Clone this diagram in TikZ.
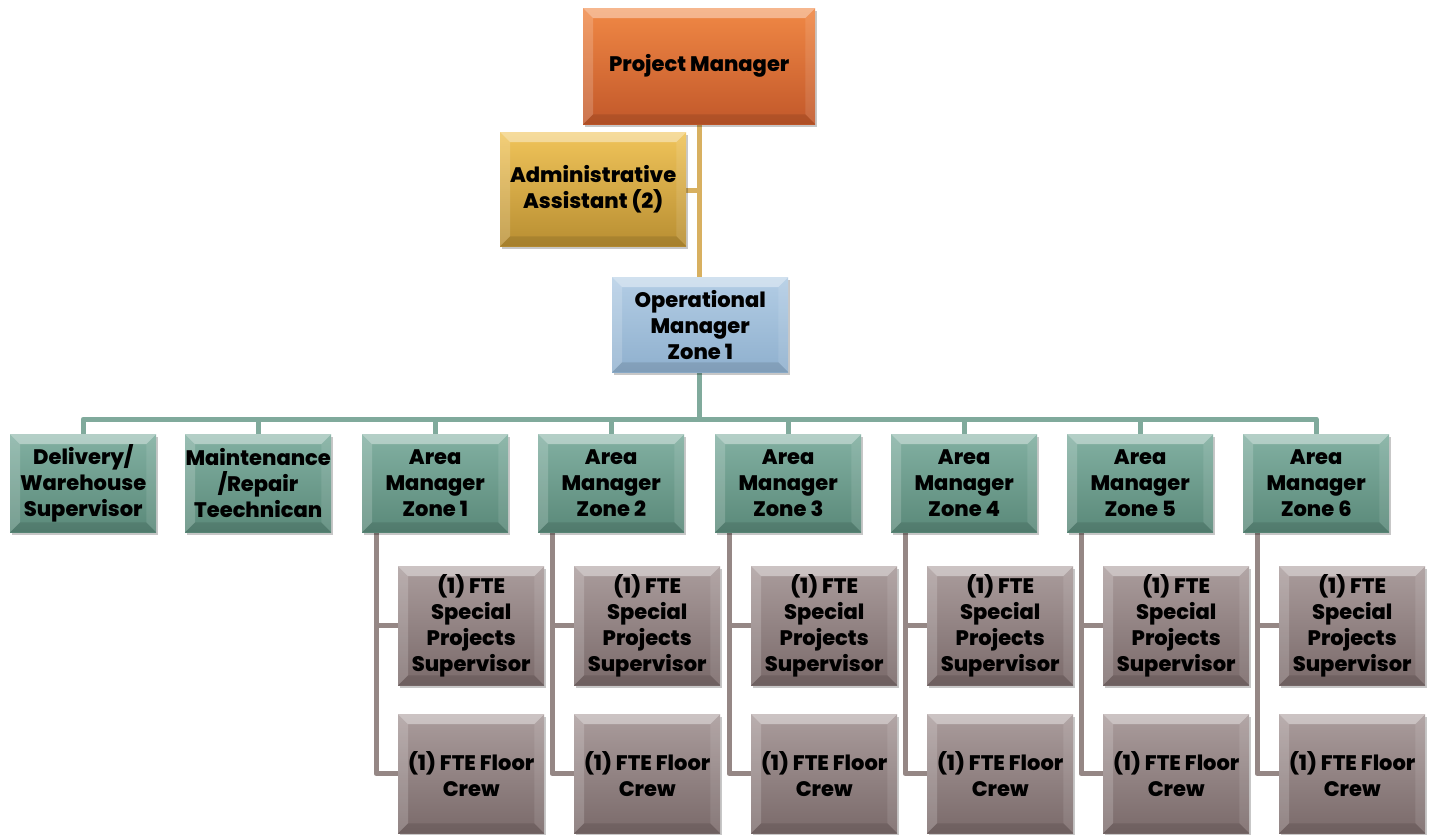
\documentclass[tikz,border=0pt]{standalone}
\usepackage{fontspec}
\setmainfont{Poppins}[BoldFont={Poppins ExtraBold}]
\usetikzlibrary{calc,shadows}

% fill colours (top / bottom of each gradient)
\definecolor{pmtop}{HTML}{F08845}
\definecolor{pmbot}{HTML}{C2582A}
\definecolor{astop}{HTML}{F0C45A}
\definecolor{asbot}{HTML}{B88E32}
\definecolor{optop}{HTML}{B3CDE5}
\definecolor{opbot}{HTML}{8FB0CE}
\definecolor{tltop}{HTML}{82B0A2}
\definecolor{tlbot}{HTML}{5A8979}
\definecolor{mvtop}{HTML}{AA9C9C}
\definecolor{mvbot}{HTML}{7A6A6A}
% connector colours
\definecolor{goldline}{HTML}{D8B060}
\definecolor{tealline}{HTML}{80AA9C}
\definecolor{mauveline}{HTML}{958785}

\pgfdeclarelayer{background}
\pgfsetlayers{background,main}

\tikzset{
  box/.style={rectangle, anchor=north west, inner sep=0pt,
    drop shadow={shadow xshift=2pt, shadow yshift=-3pt, opacity=.22, fill=black}},
  pmbox/.style={box, top color=pmtop, bottom color=pmbot},
  asbox/.style={box, top color=astop, bottom color=asbot},
  opbox/.style={box, top color=optop, bottom color=opbot},
  tlbox/.style={box, top color=tltop, bottom color=tlbot},
  mvbox/.style={box, top color=mvtop, bottom color=mvbot},
  boxtext/.style={align=center, inner sep=0pt, text=black,
    font=\fontsize{21}{26}\selectfont\bfseries},
  link/.style={line width=5pt, line join=round, line cap=butt},
}

% bevelled rim drawn over a box node
\newcommand\bevel[1]{%
  \fill[white,opacity=.40] (#1.north west) -- (#1.north east)
    -- ($(#1.north east)+(-10pt,-10pt)$) -- ($(#1.north west)+(10pt,-10pt)$) -- cycle;
  \fill[white,opacity=.18] (#1.north west) -- ($(#1.north west)+(10pt,-10pt)$)
    -- ($(#1.south west)+(10pt,10pt)$) -- (#1.south west) -- cycle;
  \fill[white,opacity=.10] (#1.north east) -- ($(#1.north east)+(-10pt,-10pt)$)
    -- ($(#1.south east)+(-10pt,10pt)$) -- (#1.south east) -- cycle;
  \fill[black,opacity=.10] (#1.south west) -- ($(#1.south west)+(10pt,10pt)$)
    -- ($(#1.south east)+(-10pt,10pt)$) -- (#1.south east) -- cycle;
}

% a box placed by its pixel corners: name, style, x1, y1, x2, y2, text
\newcommand\orgbox[7]{%
  \pgfmathsetmacro\bxw{(#5)-(#3)}%
  \pgfmathsetmacro\bxh{(#6)-(#4)}%
  \node[#2, minimum width=\bxw pt, minimum height=\bxh pt] (#1) at (#3,#4) {};
  \bevel{#1}
  \node[boxtext] (#1-label) at (#1.center) {#7};
}

\begin{document}
\begin{tikzpicture}[x=1pt, y=-1pt]
\useasboundingbox (0,0) rectangle (1435,835);

\coordinate (stem) at (699,124);
\coordinate (asjoin) at (699,190);
\coordinate (bar) at (0,419);

% ---- top of the chart ----
\orgbox{pm}{pmbox}{583}{8}{815}{124}{Project Manager}
\orgbox{as}{asbox}{500}{132}{686}{246}{Administrative\\Assistant (2)}
\orgbox{op}{opbox}{612}{277}{788}{372}{Operational\\Manager\\Zone 1}

% ---- second row ----
\orgbox{dw}{tlbox}{10}{434}{156}{532}{Delivery/\\Warehouse\\Supervisor}
\orgbox{mr}{tlbox}{185}{434}{331}{532}{Maintenance\\/Repair\\Teechnican}
\foreach \i/\xl in {1/362,2/538,3/715,4/891,5/1067,6/1243}{
  \orgbox{a\i}{tlbox}{\xl}{434}{\xl+146}{532}{Area\\Manager\\Zone \i}
}

% ---- third and fourth rows ----
\foreach \i/\xl in {1/362,2/538,3/715,4/891,5/1067,6/1243}{
  \orgbox{s\i}{mvbox}{\xl+36}{566}{\xl+182}{685}{(1) FTE\\Special\\Projects\\Supervisor}
  \orgbox{f\i}{mvbox}{\xl+36}{714}{\xl+182}{833}{(1) FTE Floor\\Crew}
}

% ---- connectors, kept behind the boxes ----
\begin{pgfonlayer}{background}
  \draw[link, goldline] (pm.south -| stem) -- (op.north -| stem);
  \draw[link, goldline] (as.east |- asjoin) -- (asjoin);
  \foreach \c in {dw,mr,a1,a2,a3,a4,a5,a6}{
    \draw[link, tealline] (op.south -| stem) -- (stem |- bar) -| (\c.north);
  }
  \foreach \i in {1,...,6}{
    \coordinate (st\i) at ($(a\i.south west)+(14pt,0pt)$);
    \draw[link, mauveline] (st\i) |- (s\i.west);
    \draw[link, mauveline] (st\i) |- (f\i.west);
  }
\end{pgfonlayer}
\end{tikzpicture}
\end{document}
